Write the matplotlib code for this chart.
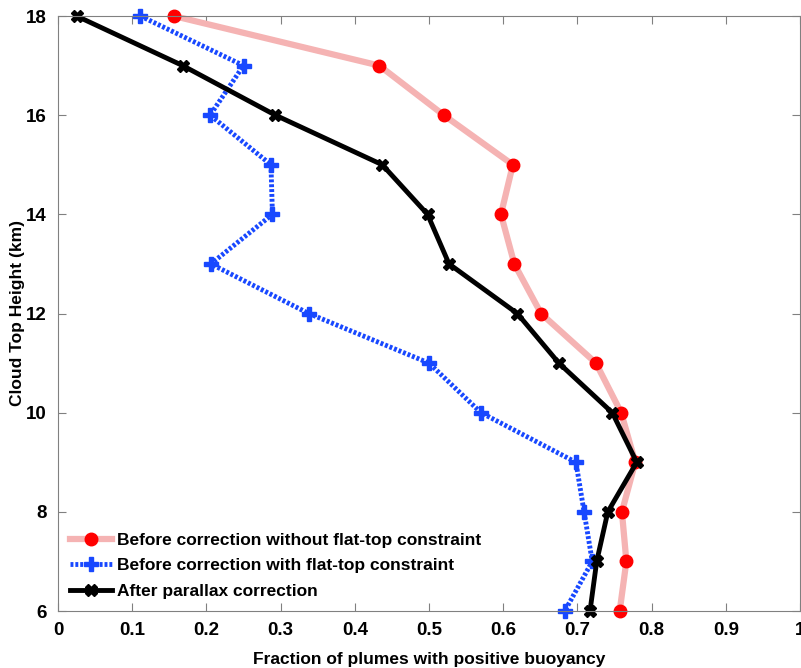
import numpy as np
import matplotlib.pyplot as plt

plt.rcParams['font.family'] = ['Liberation Sans', 'DejaVu Sans']
plt.rcParams['font.weight'] = 'bold'

height = [18, 17, 16, 15, 14, 13, 12, 11, 10, 9, 8, 7, 6]
no_flat = [0.156, 0.433, 0.520, 0.613, 0.597, 0.615, 0.651, 0.725, 0.759, 0.778, 0.760, 0.766, 0.757]
flat_top = [0.111, 0.250, 0.205, 0.287, 0.289, 0.206, 0.338, 0.500, 0.570, 0.698, 0.709, 0.720, 0.683]
corrected = [0.025, 0.168, 0.293, 0.437, 0.498, 0.527, 0.619, 0.675, 0.747, 0.780, 0.741, 0.726, 0.717]

fig = plt.figure(figsize=(8.01, 6.68), dpi=100)
ax = fig.add_axes([58/801, 57/668, 742/801, 595/668])

# light hatched-looking line for the uncorrected run
ax.plot(no_flat, height, color='#f5b3b3', lw=4.5, marker='o', ms=9,
        mfc='red', mec='red', clip_on=False,
        label='Before correction without flat-top constraint')
ax.plot(flat_top, height, color='#1848ff', lw=3.5, ls=(0, (0.6, 0.4)), marker='P', ms=10,
        mfc='#1848ff', mec='#1848ff', clip_on=False,
        label='Before correction with flat-top constraint')
ax.plot(corrected, height, color='black', lw=3.5, marker='X', ms=9,
        mfc='black', mec='black', clip_on=False,
        label='After parallax correction')

ax.set_xlim(0, 1)
ax.set_ylim(6, 18)
ax.set_xticks(np.arange(0, 1.01, 0.1))
ax.set_xticklabels(['0', '0.1', '0.2', '0.3', '0.4', '0.5', '0.6', '0.7', '0.8', '0.9', '1'])
ax.set_yticks(np.arange(6, 19, 2))
ax.tick_params(direction='in', top=True, right=True, color='#808080', length=6,
               labelsize=13.5, pad=8)
for s in ax.spines.values():
    s.set_color('#808080')
for lab in ax.get_xticklabels() + ax.get_yticklabels():
    lab.set_fontweight('bold')

ax.set_xlabel('Fraction of plumes with positive buoyancy', fontsize=12.5, fontweight='bold', labelpad=9)
ax.set_ylabel('Cloud Top Height (km)', fontsize=12.5, fontweight='bold')
ax.yaxis.set_label_coords(-0.045, 0.5)

leg = ax.legend(loc='lower left', frameon=False, fontsize=12.5, handlelength=2.4,
                borderaxespad=0.3, labelspacing=0.6, handletextpad=0.3,
                bbox_to_anchor=(0.0, 0.0))
for t in leg.get_texts():
    t.set_fontweight('bold')

fig.savefig('out.png', dpi=100)
